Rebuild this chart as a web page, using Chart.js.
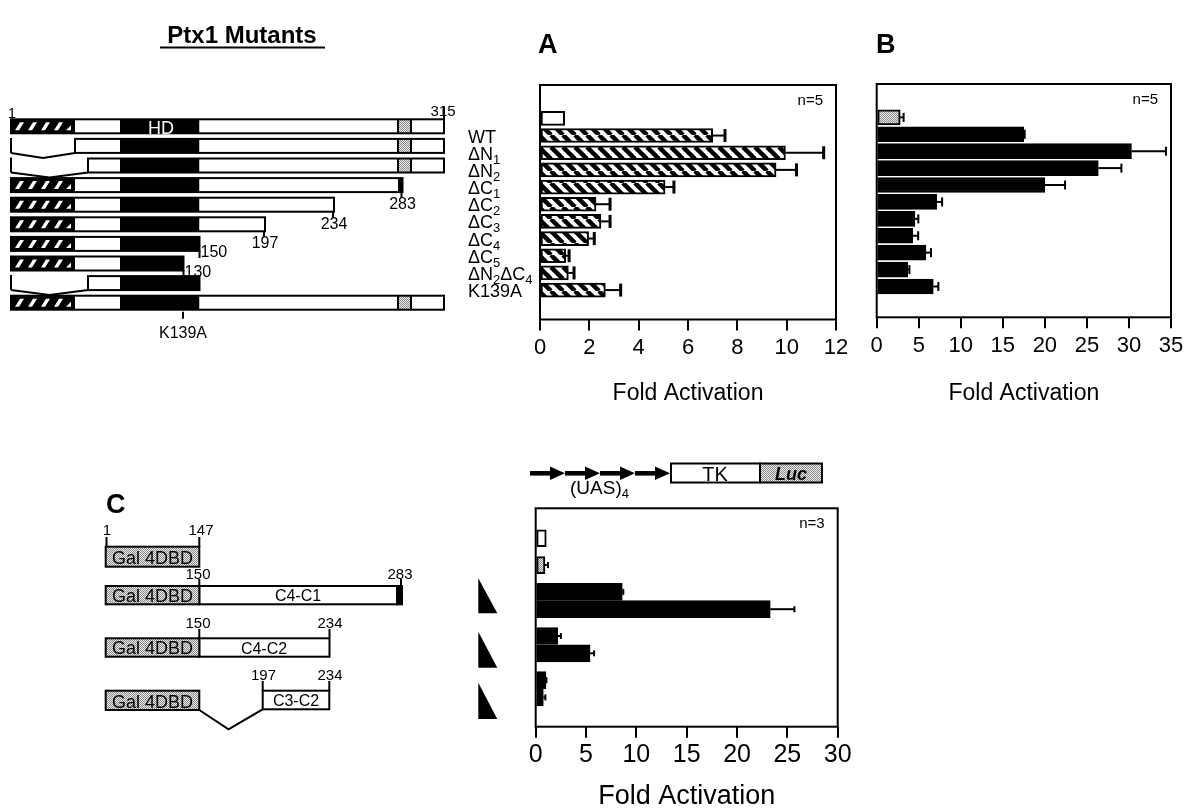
<!DOCTYPE html>
<html>
<head>
<meta charset="utf-8">
<script src="https://cdn.jsdelivr.net/npm/chart.js@4.4.1/dist/chart.umd.min.js"></script>
<style>
  html, body { margin: 0; padding: 0; background: #fff; overflow: hidden; }
  #page { position: relative; width: 1188px; height: 808px; }
  #page canvas, #page svg { position: absolute; }
  #art { will-change: transform; }
</style>
</head>
<body>
<div id="page">
  <svg id="art" width="1188" height="808" style="left:0;top:0"></svg>
  <canvas id="chartA" width="400" height="335" style="left:455px;top:75px"></canvas>
  <canvas id="chartB" width="328" height="336" style="left:860px;top:74px"></canvas>
  <canvas id="chartC" width="340" height="320" style="left:515px;top:498px"></canvas>
</div>
<script>
// ====== DATA ======
const mutantLabels = ['', 'WT', 'ΔN_1', 'ΔN_2', 'ΔC_1', 'ΔC_2', 'ΔC_3', 'ΔC_4', 'ΔC_5', 'ΔN_2ΔC_4', 'K139A'];

// A: Ptx1 mutants, fold activation (first row = empty vector)
const foldA = [1.0, 7.0, 9.95, 9.57, 5.07, 2.27, 2.47, 1.97, 1.04, 1.15, 2.65];
const semA  = [0, 0.5, 1.55, 0.83, 0.36, 0.57, 0.37, 0.23, 0.14, 0.23, 0.62];
const ticksA = [0, 2, 4, 6, 8, 10, 12];

// B: same mutants, second promoter (first row = stippled control)
const foldB = [2.8, 17.5, 30.3, 26.35, 20.0, 7.13, 4.55, 4.28, 5.86, 3.69, 6.73];
const semB  = [0.4, 0.1, 4.1, 2.75, 2.4, 0.65, 0.4, 0.65, 0.6, 0.2, 0.6];
const ticksB = [0, 5, 10, 15, 20, 25, 30, 35];

// C: Gal4 DBD fusions, two doses each for the fusions
const galLabels = ['Reporter', 'Gal4DBD', 'C4-C1 low', 'C4-C1 high', 'C4-C2 low', 'C4-C2 high', 'C3-C2 low', 'C3-C2 high'];
const galGroups = [1, 1, 2, 2, 2];
const foldC = [1.05, 0.92, 8.6, 23.3, 2.18, 5.4, 1.02, 0.76];
const semC  = [0, 0.3, 0.1, 2.4, 0.32, 0.4, 0.05, 0.2];
const ticksC = [0, 5, 10, 15, 20, 25, 30];
// =========================================

const FONT = '"Liberation Sans", Arial, Helvetica, sans-serif';

function makePattern(kind) {
  const c = document.createElement('canvas');
  const g = c.getContext('2d');
  if (kind === 'hatch') {
    c.width = c.height = 12;
    g.fillStyle = '#fff'; g.fillRect(0, 0, 12, 12);
    g.strokeStyle = '#000'; g.lineWidth = 4.5;
    for (const k of [-12, 0, 12]) { g.beginPath(); g.moveTo(k, 0); g.lineTo(k + 12, 12); g.stroke(); }
  } else {
    c.width = c.height = 2;
    g.fillStyle = '#eee'; g.fillRect(0, 0, 2, 2);
    g.fillStyle = '#888'; g.fillRect(0, 0, 1, 1); g.fillRect(1, 1, 1, 1);
  }
  return g.createPattern(c, 'repeat');
}
const HATCH = makePattern('hatch');
const DOTS = makePattern('dots');

// label with "_d" subscripts
function drawLabel(ctx, str, x, y, size) {
  let cx = x;
  for (const p of str.split(/(_\d)/)) {
    if (!p) continue;
    const sub = p[0] === '_';
    const t = sub ? p.slice(1) : p;
    ctx.font = `${sub ? Math.round(size * 0.7) : size}px ${FONT}`;
    ctx.fillText(t, cx, sub ? y + 4 : y);
    cx += ctx.measureText(t).width;
  }
}

// frame, error bars, n= note and row labels
function panelPlugin(cfg) {
  return {
    id: 'panel',
    afterDatasetsDraw(chart) {
      const { ctx, chartArea: a, scales: { x } } = chart;
      const bars = chart.getDatasetMeta(0).data;
      ctx.save();
      ctx.strokeStyle = '#000'; ctx.fillStyle = '#000';
      cfg.sem.forEach((e, i) => {
        if (!e) return;
        const y = bars[i].y;
        const x0 = x.getPixelForValue(cfg.values[i]);
        const x1 = x.getPixelForValue(cfg.values[i] + e);
        ctx.lineWidth = 2;
        ctx.beginPath(); ctx.moveTo(x0, y); ctx.lineTo(x1, y); ctx.stroke();
        ctx.lineWidth = cfg.capWidth;
        ctx.beginPath(); ctx.moveTo(x1, y - cfg.cap / 2); ctx.lineTo(x1, y + cfg.cap / 2); ctx.stroke();
      });
      ctx.lineWidth = 2;
      ctx.strokeRect(a.left, a.top, a.right - a.left, a.bottom - a.top);
      ctx.font = `15px ${FONT}`;
      ctx.textAlign = 'right'; ctx.textBaseline = 'middle';
      ctx.fillText(cfg.note, a.right - 13, a.top + 16);
      if (cfg.rowLabels) {
        ctx.textAlign = 'left'; ctx.textBaseline = 'alphabetic';
        cfg.rowLabels.forEach((lab, i) => drawLabel(ctx, lab, cfg.labelX, bars[i].y + 7, 18));
      }
      ctx.restore();
    }
  };
}

function panelChart(id, cfg) {
  return new Chart(document.getElementById(id), {
    type: 'bar',
    data: {
      datasets: [{
        data: cfg.values.map((v, i) => ({ x: v, y: cfg.positions[i] })),
        backgroundColor: cfg.fills,
        borderColor: '#000',
        borderWidth: 2,
        borderSkipped: false,
        barThickness: cfg.thickness
      }]
    },
    options: {
      indexAxis: 'y',
      responsive: false,
      animation: false,
      devicePixelRatio: 1,
      layout: { padding: cfg.pad },
      plugins: { legend: { display: false }, tooltip: { enabled: false } },
      scales: {
        y: { type: 'linear', display: false, reverse: true, min: cfg.yMin, max: cfg.yMax },
        x: {
          type: 'linear',
          min: cfg.ticks[0],
          max: cfg.ticks[cfg.ticks.length - 1],
          afterBuildTicks: s => { s.ticks = cfg.ticks.map(v => ({ value: v })); },
          ticks: { color: '#000', font: { family: FONT, size: cfg.tickSize }, padding: cfg.tickPad, maxRotation: 0, autoSkip: false },
          grid: { drawOnChartArea: false, drawTicks: true, tickLength: 11, lineWidth: 2, color: '#000' },
          border: { display: false },
          title: { display: true, text: 'Fold Activation', color: '#000', font: { family: FONT, size: cfg.titleSize }, padding: { top: 0, bottom: cfg.titlePad } },
          afterFit: s => { s.height = cfg.axisH; }
        }
      }
    },
    plugins: [panelPlugin(cfg)]
  });
}

// row positions for C: one step inside a construct, wider step between constructs
const posC = [];
let p = 0;
galGroups.forEach(n => { for (let j = 0; j < n; j++) { posC.push(p); p += 1; } p += 0.55; });

panelChart('chartA', {
  values: foldA, sem: semA, positions: foldA.map((_, i) => i), ticks: ticksA,
  fills: foldA.map((_, i) => i === 0 ? '#fff' : HATCH),
  thickness: 14, pad: { left: 85, right: 19, top: 10, bottom: 0 }, axisH: 90.5,
  yMin: -1.09, yMax: 10.86, tickSize: 22, tickPad: 4, titleSize: 23, titlePad: 3,
  cap: 13, capWidth: 3, note: 'n=5', rowLabels: mutantLabels, labelX: 13
});

panelChart('chartB', {
  values: foldB, sem: semB, positions: foldB.map((_, i) => i), ticks: ticksB,
  fills: foldB.map((_, i) => i === 0 ? DOTS : '#000'),
  thickness: 15, pad: { left: 16.7, right: 17, top: 10, bottom: 0 }, axisH: 92.7,
  yMin: -1.11, yMax: 10.96, tickSize: 22, tickPad: 4, titleSize: 23, titlePad: 3,
  cap: 9, capWidth: 2, note: 'n=5'
});

panelChart('chartC', {
  values: foldC, sem: semC, positions: posC, ticks: ticksC,
  fills: foldC.map((_, i) => i === 0 ? '#fff' : i === 1 ? DOTS : '#000'),
  thickness: 17, pad: { left: 20.7, right: 17.3, top: 10.3, bottom: 0 }, axisH: 91.3,
  yMin: -0.83, yMax: 9.99, tickSize: 25, tickPad: 2, titleSize: 27, titlePad: 5,
  cap: 6, capWidth: 2, note: 'n=3'
});

// ====== schematics (SVG) ======
const art = [];
const add = s => art.push(s);
const line = (x1, y1, x2, y2, w = 2) => add(`<line x1="${x1}" y1="${y1}" x2="${x2}" y2="${y2}" stroke="#000" stroke-width="${w}"/>`);
const box = (x1, y1, x2, y2, fill, stroke = true) =>
  add(`<rect x="${x1}" y="${y1}" width="${x2 - x1}" height="${y2 - y1}" fill="${fill}"${stroke ? ' stroke="#000" stroke-width="2"' : ''}/>`);
const text = (x, y, size, str, extra = '') => add(`<text x="${x}" y="${y}" font-size="${size}" fill="#000" ${extra}>${str}</text>`);
const poly = (pts, fill) => add(`<polygon points="${pts.map(q => q.join(',')).join(' ')}" fill="${fill}"/>`);
const pline = pts => add(`<polyline points="${pts.map(q => q.join(',')).join(' ')}" fill="none" stroke="#000" stroke-width="2"/>`);

function hatch(x1, x2, t, b) {
  box(x1, t, x2, b, '#000', false);
  for (let sx = x1 + 4; sx + 9 < x2 - 8; sx += 13) poly([[sx, b - 3], [sx + 4, b - 3], [sx + 9, t + 3], [sx + 5, t + 3]], '#fff');
  poly([[x2 - 9, b - 3], [x2 - 4, b - 3], [x2 - 4, b - 8]], '#fff');
}

add(`<defs><pattern id="dots" width="2" height="2" patternUnits="userSpaceOnUse"><rect width="2" height="2" fill="#eee"/><rect width="1" height="1" fill="#888"/><rect x="1" y="1" width="1" height="1" fill="#888"/></pattern></defs>`);

// titles and panel letters
text(242, 43, 24, 'Ptx1 Mutants', 'font-weight="bold" text-anchor="middle"');
line(160, 47.5, 325, 47.5, 2);
text(538, 53, 27, 'A', 'font-weight="bold"');
text(876, 53, 27, 'B', 'font-weight="bold"');
text(106, 513, 27, 'C', 'font-weight="bold"');

// Ptx1 mutant constructs
const X = { n: 11, hatch: 75, n2: 88, hd: 120, a130: 183.5, a150: 199.5, a197: 265, a234: 334, stip: 398, a283: 402.5, stipEnd: 411, c: 444 };
const rows = [
  { from: 'hatch', to: 'c', hd: true },
  { from: 'n1', to: 'c' },
  { from: 'n2', to: 'c' },
  { from: 'hatch', to: 'a283', num: '283' },
  { from: 'hatch', to: 'a234', num: '234' },
  { from: 'hatch', to: 'a197', num: '197' },
  { from: 'hatch', to: 'a150', num: '150', side: true },
  { from: 'hatch', to: 'a130', num: '130', side: true },
  { from: 'n2', to: 'a150' },
  { from: 'hatch', to: 'c', mark: 'K139A' }
];
rows.forEach((r, k) => {
  const yc = 126.3 + 19.6 * k, t = yc - 7, b = yc + 7;
  const end = X[r.to];
  const x0 = r.from === 'hatch' ? X.n : r.from === 'n1' ? X.hatch : X.n2;
  if (r.from === 'hatch') hatch(X.n, X.hatch, t, b);
  else { line(X.n, t - 1, X.n, b); pline([[X.n, b], [(X.n + x0) / 2, b + 5], [x0, b]]); }
  box(Math.max(x0, X.hatch), t, X.hd, b, '#fff', false);
  box(X.hd, t, Math.min(end, X.a150), b, '#000', false);
  if (end > X.a150) box(X.a150, t, Math.min(end, X.stip), b, '#fff', false);
  if (r.to === 'a283') box(X.stip, t, end, b, '#000', false);
  if (r.to === 'c') {
    box(X.stip, t, X.stipEnd, b, 'url(#dots)', false);
    box(X.stipEnd, t, X.c, b, '#fff', false);
    line(X.stip, t, X.stip, b); line(X.stipEnd, t, X.stipEnd, b);
  }
  box(x0, t, end, b, 'none');
  if (r.hd) {
    add(`<text x="161" y="${b + 1}" font-size="18" fill="#ffffff" text-anchor="middle">HD</text>`);
    text(12, t - 1, 15, '1', 'text-anchor="middle"');
    text(443, t - 3, 15, '315', 'text-anchor="middle"');
    line(X.c, t - 13, X.c, t);
  }
  if (r.num && !r.side) { line(end - 1, b, end - 1, b + 6); text(end, b + 17, 16, r.num, 'text-anchor="middle"'); }
  if (r.side) { line(end, b, end, b + 7); text(end + 1, b + 6.5, 16, r.num); }
  if (r.mark) { line(183, b + 2, 183, b + 9); text(183, b + 28, 16, r.mark, 'text-anchor="middle"'); }
});

// Gal4 fusion constructs
function gal(t, b) {
  box(105.7, t, 199.3, b, 'url(#dots)');
  text(152.5, b - 2.5, 18, 'Gal 4DBD', 'text-anchor="middle"');
}
gal(546.7, 566.7);
line(106.5, 537, 106.5, 547); line(199.3, 537, 199.3, 547);
text(107, 535, 15, '1', 'text-anchor="middle"');
text(201, 535, 15, '147', 'text-anchor="middle"');

box(199.3, 586, 397, 604.3, '#fff');
box(397, 586, 402, 604.3, '#000');
gal(586, 604.3);
text(298, 601, 16, 'C4-C1', 'text-anchor="middle"');
line(199.3, 579, 199.3, 586); line(401, 579, 401, 586);
text(198, 579, 15, '150', 'text-anchor="middle"');
text(400, 579, 15, '283', 'text-anchor="middle"');

box(199.3, 638.3, 329.5, 656.7, '#fff');
gal(638.3, 656.7);
text(264, 653.5, 16, 'C4-C2', 'text-anchor="middle"');
line(199.3, 629, 199.3, 638); line(329.5, 629, 329.5, 638);
text(198, 628, 15, '150', 'text-anchor="middle"');
text(330, 628, 15, '234', 'text-anchor="middle"');

gal(690.7, 710);
box(262.7, 690.7, 329.3, 709.3, '#fff');
text(296, 706, 16, 'C3-C2', 'text-anchor="middle"');
pline([[199.3, 710], [228.5, 729.3], [262.7, 709.3]]);
line(262.7, 681, 262.7, 691); line(329.3, 681, 329.3, 691);
text(263.5, 680, 15, '197', 'text-anchor="middle"');
text(330, 680, 15, '234', 'text-anchor="middle"');

// dose wedges
[[578.3, 613.3], [631.7, 667.7], [682.7, 719]].forEach(([t, b]) => poly([[478.3, t], [478.3, b], [497.3, b]], '#000'));

// reporter: (UAS)4 - TK - Luc
[530, 565, 600, 635].forEach(s => {
  box(s, 471, s + 22, 475.6, '#000', false);
  poly([[s + 20, 466.5], [s + 35, 473.3], [s + 20, 480.1]], '#000');
});
text(570, 494, 19, '(UAS)<tspan font-size="13" dy="4">4</tspan>');
box(671, 463.5, 760, 482.5, '#fff');
text(715, 480.5, 20, 'TK', 'text-anchor="middle"');
box(760, 463.5, 822, 482.5, 'url(#dots)');
text(791, 479.5, 18, 'Luc', 'text-anchor="middle" font-weight="bold" font-style="italic"');

const svg = document.getElementById('art');
svg.setAttribute('font-family', FONT.replace(/"/g, "'"));
svg.innerHTML = art.join('');
</script>
</body>
</html>
